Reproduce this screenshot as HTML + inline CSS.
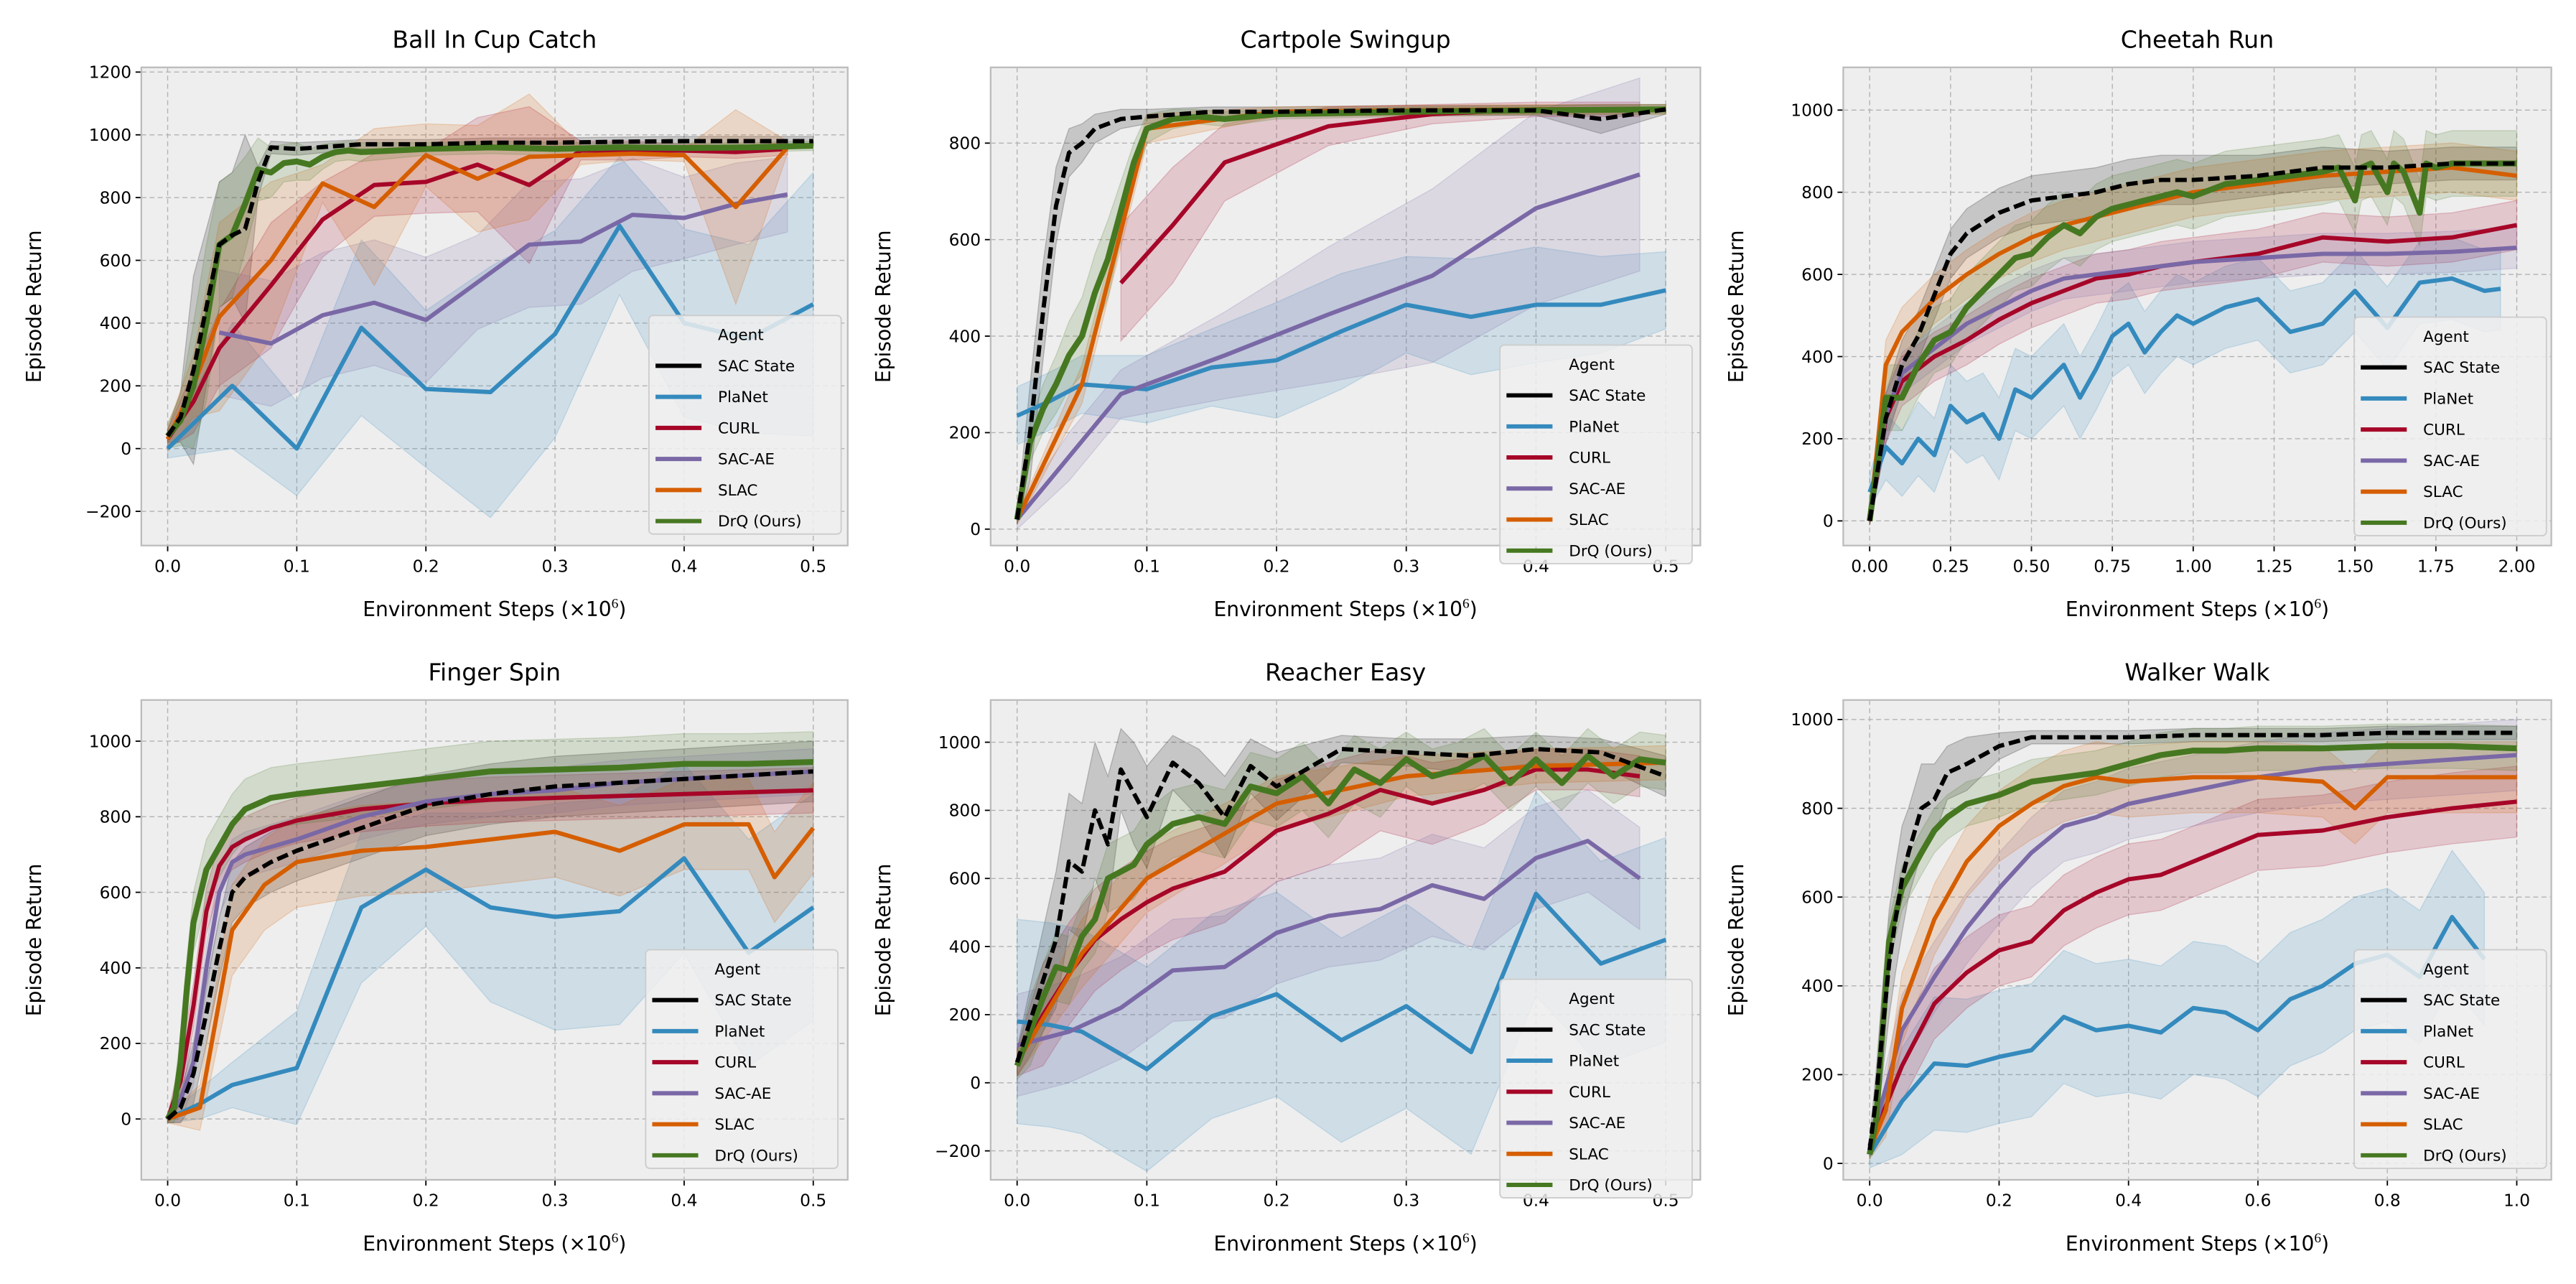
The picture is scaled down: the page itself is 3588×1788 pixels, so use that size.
<!DOCTYPE html>
<html><head><meta charset="utf-8"><style>
html,body{margin:0;padding:0;background:#fff}
svg{display:block;font-family:"DejaVu Sans","Liberation Sans",sans-serif}
</style></head><body>
<svg id="fig" width="3588" height="1788" viewBox="0 0 1568 781.4" xmlns="http://www.w3.org/2000/svg">
<rect width="1568" height="781.4" fill="#fff"/>
</svg>
<script>
// ---------- data ----------
const agents = ["SAC State","PlaNet","CURL","SAC-AE","SLAC","DrQ (Ours)"];
const colors = ["#000000","#348ABD","#A60628","#7A68A6","#D55E00","#467821"];

// Panel 1: Ball In Cup Catch
const p1SacX=[0,0.01,0.02,0.03,0.04,0.05,0.06,0.07,0.08,0.1,0.15,0.2,0.25,0.3,0.35,0.4,0.45,0.5];
const p1SacY=[40,100,250,450,650,680,700,850,960,955,970,970,975,975,978,980,980,980];
const p1SacS=[20,80,300,250,200,200,300,50,20,20,15,15,15,15,15,15,15,15];
const p1PlaX=[0,0.05,0.1,0.15,0.2,0.25,0.3,0.35,0.4,0.45,0.5];
const p1PlaY=[0,200,0,385,190,180,365,710,400,350,460];
const p1PlaS=[30,200,150,280,250,400,330,220,300,300,420];
const p1CurX=[0,0.02,0.04,0.08,0.12,0.16,0.2,0.24,0.28,0.32,0.36,0.4,0.44,0.48];
const p1CurY=[30,150,320,520,730,840,850,905,840,950,950,950,945,955];
const p1CurS=[30,100,120,200,120,100,100,150,250,30,30,20,20,20];
const p1AeX=[0.04,0.08,0.12,0.16,0.2,0.24,0.28,0.32,0.36,0.4,0.44,0.48];
const p1AeY=[370,335,425,465,410,530,650,660,745,735,780,810];
const p1AeS=[200,200,200,200,200,150,200,200,180,130,130,120];
const p1SlX=[0,0.02,0.04,0.08,0.12,0.16,0.2,0.24,0.28,0.32,0.36,0.4,0.44,0.48];
const p1SlY=[30,200,420,600,845,770,935,860,930,935,940,935,770,960];
const p1SlS=[40,100,300,250,60,250,100,170,200,30,20,20,310,20];
const p1DrX=[0,0.01,0.02,0.03,0.04,0.05,0.06,0.07,0.08,0.09,0.1,0.11,0.12,0.13,0.14,0.15,0.2,0.25,0.3,0.35,0.4,0.45,0.5];
const p1DrY=[40,90,200,400,650,680,780,890,880,910,915,905,930,945,950,945,955,960,955,960,958,960,965];
const p1DrS=[40,80,200,250,200,200,150,100,80,60,60,50,40,30,30,30,20,20,20,15,15,15,15];

// Panel 2: Cartpole Swingup
const p2SacX=[0,0.01,0.02,0.03,0.04,0.05,0.06,0.08,0.1,0.15,0.2,0.3,0.4,0.45,0.5];
const p2SacY=[20,200,450,670,780,800,830,850,855,865,865,868,868,850,870];
const p2SacS=[10,100,100,80,50,40,30,20,15,10,10,10,10,30,10];
const p2PlaX=[0,0.025,0.05,0.1,0.15,0.2,0.25,0.3,0.35,0.4,0.45,0.5];
const p2PlaY=[235,265,300,290,335,350,410,465,440,465,465,495];
const p2PlaS=[60,60,60,70,80,120,120,100,120,120,100,80];
const p2CurX=[0.08,0.12,0.16,0.24,0.32,0.4,0.48];
const p2CurY=[510,630,760,835,860,870,870];
const p2CurS=[120,120,80,40,20,15,15];
const p2AeX=[0,0.04,0.08,0.16,0.24,0.32,0.4,0.48];
const p2AeY=[20,150,280,360,445,525,665,735];
const p2AeS=[20,50,50,90,140,180,200,200];
const p2SlX=[0,0.05,0.1,0.2,0.3,0.4,0.5];
const p2SlY=[20,300,830,865,868,870,870];
const p2SlS=[10,40,30,10,10,10,10];
const p2DrX=[0,0.01,0.02,0.03,0.04,0.05,0.06,0.07,0.08,0.09,0.1,0.12,0.14,0.16,0.2,0.3,0.4,0.5];
const p2DrY=[20,180,250,300,360,400,490,560,660,760,830,850,855,850,860,865,868,870];
const p2DrS=[10,40,50,60,70,80,80,80,60,40,30,20,15,15,10,10,10,10];

// Panel 3: Cheetah Run
const p3SacX=[0,0.05,0.1,0.15,0.2,0.25,0.3,0.4,0.5,0.6,0.7,0.8,0.9,1.0,1.2,1.4,1.6,1.8,2.0];
const p3SacY=[0,250,380,450,550,650,700,750,780,790,800,820,830,830,840,860,860,870,870];
const p3SacS=[10,60,60,60,60,60,60,60,60,60,60,60,60,60,50,50,40,40,40];
const p3PlaX=[0,0.05,0.1,0.15,0.2,0.25,0.3,0.35,0.4,0.45,0.5,0.55,0.6,0.65,0.7,0.75,0.8,0.85,0.9,0.95,1.0,1.1,1.2,1.3,1.4,1.5,1.6,1.7,1.8,1.9,1.95];
const p3PlaY=[70,180,140,200,160,280,240,260,200,320,300,340,380,300,370,450,480,410,460,500,480,520,540,460,480,560,470,580,590,560,565];
const p3PlaS=[40,80,80,90,90,100,100,100,100,100,100,100,100,100,100,100,100,100,100,100,100,100,100,100,100,100,100,100,100,100,100];
const p3CurX=[0,0.05,0.1,0.2,0.3,0.4,0.5,0.6,0.7,0.8,0.9,1.0,1.2,1.4,1.6,1.8,2.0];
const p3CurY=[0,250,340,400,440,490,530,560,590,600,620,630,650,690,680,690,720];
const p3CurS=[10,60,60,60,60,60,60,60,60,60,60,60,60,60,60,60,60];
const p3AeX=[0,0.05,0.1,0.2,0.3,0.4,0.5,0.6,0.7,0.8,0.9,1.0,1.2,1.4,1.6,1.8,2.0];
const p3AeY=[0,260,360,420,480,520,560,590,600,610,620,630,640,650,650,655,665];
const p3AeS=[10,50,50,50,50,50,50,50,50,50,50,50,50,50,50,50,50];
const p3SlX=[0,0.05,0.1,0.2,0.3,0.4,0.5,0.6,0.7,0.8,0.9,1.0,1.2,1.4,1.6,1.8,2.0];
const p3SlY=[0,380,460,540,600,650,690,720,740,760,780,800,820,840,850,860,840];
const p3SlS=[10,60,60,60,60,60,60,60,60,60,60,60,60,60,60,60,60];
const p3DrX=[0,0.05,0.1,0.15,0.2,0.25,0.3,0.35,0.4,0.45,0.5,0.55,0.6,0.65,0.7,0.75,0.8,0.85,0.9,0.95,1.0,1.1,1.2,1.3,1.4,1.45,1.5,1.52,1.55,1.6,1.62,1.65,1.7,1.72,1.75,1.8,1.9,2.0];
const p3DrY=[0,300,300,380,440,460,520,560,600,640,650,690,720,700,740,760,770,780,790,800,790,820,830,840,850,860,780,860,870,800,870,850,750,870,860,870,870,870];
const p3DrS=[10,80,80,80,80,80,80,80,80,80,80,80,80,80,80,80,80,80,80,80,80,80,80,80,80,80,80,80,80,80,80,80,80,80,80,80,80,80];

// Panel 4: Finger Spin
const p4SacX=[0,0.01,0.02,0.03,0.04,0.05,0.06,0.08,0.1,0.15,0.2,0.25,0.3,0.35,0.4,0.45,0.5];
const p4SacY=[0,30,120,280,450,600,640,680,710,770,830,860,880,890,900,910,920];
const p4SacS=[10,40,80,80,80,80,80,80,80,80,80,80,80,80,80,80,80];
const p4PlaX=[0,0.025,0.05,0.1,0.15,0.2,0.25,0.3,0.35,0.4,0.45,0.5];
const p4PlaY=[0,40,90,135,560,660,560,535,550,690,440,560];
const p4PlaS=[10,40,60,150,200,150,250,300,300,250,300,300];
const p4CurX=[0,0.01,0.02,0.03,0.04,0.05,0.06,0.08,0.1,0.15,0.2,0.25,0.3,0.35,0.4,0.45,0.5];
const p4CurY=[0,100,300,550,670,720,740,770,790,820,835,845,850,855,860,865,870];
const p4CurS=[10,60,60,60,60,60,60,60,60,60,60,60,60,60,60,60,60];
const p4AeX=[0,0.01,0.02,0.03,0.04,0.05,0.06,0.08,0.1,0.15,0.2,0.25,0.3,0.35,0.4,0.45,0.5];
const p4AeY=[0,50,150,400,600,680,700,720,740,800,840,860,870,890,900,910,920];
const p4AeS=[10,60,60,60,60,60,60,60,60,60,60,60,60,60,60,60,60];
const p4SlX=[0,0.025,0.05,0.075,0.1,0.15,0.2,0.25,0.3,0.35,0.4,0.45,0.47,0.5];
const p4SlY=[0,30,500,620,680,710,720,740,760,710,780,780,640,770];
const p4SlS=[10,60,120,120,120,120,120,120,120,120,120,120,120,120];
const p4DrX=[0,0.005,0.01,0.015,0.02,0.03,0.04,0.05,0.06,0.08,0.1,0.15,0.2,0.25,0.3,0.35,0.4,0.45,0.5];
const p4DrY=[0,30,150,350,520,660,720,780,820,850,860,880,900,920,925,930,940,940,945];
const p4DrS=[10,40,80,80,80,80,80,80,80,80,80,80,80,80,80,80,80,80,80];

// Panel 5: Reacher Easy
const p5SacX=[0,0.01,0.02,0.03,0.04,0.05,0.06,0.07,0.08,0.09,0.1,0.12,0.14,0.16,0.18,0.2,0.25,0.3,0.35,0.4,0.45,0.5];
const p5SacY=[60,180,300,420,650,620,800,700,920,850,780,940,880,780,930,870,980,970,960,980,970,900];
const p5SacS=[40,100,150,200,200,200,200,200,120,150,150,80,100,120,80,100,40,40,50,40,40,60];
const p5PlaX=[0,0.025,0.05,0.1,0.15,0.2,0.25,0.3,0.35,0.4,0.45,0.5];
const p5PlaY=[180,170,150,40,195,260,125,225,90,555,350,420];
const p5PlaS=[300,300,300,300,300,300,300,300,300,300,300,300];
const p5CurX=[0,0.02,0.04,0.06,0.08,0.1,0.12,0.16,0.2,0.24,0.28,0.32,0.36,0.4,0.44,0.48];
const p5CurY=[60,200,320,420,480,530,570,620,740,790,860,820,860,920,920,900];
const p5CurS=[40,150,150,150,150,150,150,150,150,150,120,120,100,60,60,60];
const p5AeX=[0,0.04,0.08,0.12,0.16,0.2,0.24,0.28,0.32,0.36,0.4,0.44,0.48];
const p5AeY=[110,150,220,330,340,440,490,510,580,540,660,710,600];
const p5AeS=[150,150,150,150,150,150,150,150,150,150,150,150,150];
const p5SlX=[0,0.05,0.1,0.2,0.3,0.4,0.5];
const p5SlY=[60,380,600,820,900,930,940];
const p5SlS=[40,100,100,80,60,50,50];
const p5DrX=[0,0.01,0.02,0.03,0.04,0.05,0.06,0.07,0.08,0.09,0.1,0.12,0.14,0.16,0.18,0.2,0.22,0.24,0.26,0.28,0.3,0.32,0.34,0.36,0.38,0.4,0.42,0.44,0.46,0.48,0.5];
const p5DrY=[50,150,250,340,330,430,480,600,620,640,700,760,780,760,870,850,900,820,920,880,950,900,920,960,880,950,880,960,900,950,940];
const p5DrS=[40,100,100,100,100,100,100,100,100,100,100,100,100,100,100,100,100,100,100,100,80,80,80,80,80,80,80,80,80,80,80];

// Panel 6: Walker Walk
const p6SacX=[0,0.01,0.02,0.03,0.04,0.05,0.06,0.08,0.1,0.12,0.15,0.2,0.25,0.3,0.4,0.5,0.6,0.7,0.8,0.9,1.0];
const p6SacY=[30,150,300,450,550,640,700,800,820,880,900,940,960,960,960,965,965,965,970,970,970];
const p6SacS=[20,60,100,120,120,120,100,100,80,60,60,30,15,15,15,15,15,15,15,15,15];
const p6PlaX=[0,0.05,0.1,0.15,0.2,0.25,0.3,0.35,0.4,0.45,0.5,0.55,0.6,0.65,0.7,0.75,0.8,0.85,0.9,0.95];
const p6PlaY=[20,140,225,220,240,255,330,300,310,295,350,340,300,370,400,450,470,420,555,460];
const p6PlaS=[30,120,150,150,150,150,150,150,150,150,150,150,150,150,150,150,150,150,150,150];
const p6CurX=[0,0.05,0.1,0.15,0.2,0.25,0.3,0.35,0.4,0.45,0.5,0.6,0.7,0.8,0.9,1.0];
const p6CurY=[40,220,360,430,480,500,570,610,640,650,680,740,750,780,800,815];
const p6CurS=[20,80,80,80,80,80,80,80,80,80,80,80,80,80,80,80];
const p6AeX=[0,0.05,0.1,0.15,0.2,0.25,0.3,0.35,0.4,0.5,0.6,0.7,0.8,0.9,1.0];
const p6AeY=[40,300,420,530,620,700,760,780,810,840,870,890,900,910,920];
const p6AeS=[20,80,80,80,80,80,80,80,80,80,80,80,80,80,80];
const p6SlX=[0,0.025,0.05,0.1,0.15,0.2,0.25,0.3,0.35,0.4,0.5,0.6,0.7,0.75,0.8,0.9,1.0];
const p6SlY=[30,120,350,550,680,760,810,850,870,860,870,870,860,800,870,870,870];
const p6SlS=[20,60,80,80,80,80,80,80,80,80,80,80,80,80,80,80,80];
const p6DrX=[0,0.01,0.02,0.03,0.05,0.08,0.1,0.12,0.15,0.2,0.25,0.3,0.35,0.4,0.45,0.5,0.55,0.6,0.7,0.8,0.9,1.0];
const p6DrY=[20,100,300,500,620,700,750,780,810,830,860,870,880,900,920,930,930,935,935,940,940,935];
const p6DrS=[10,50,50,50,50,50,50,50,50,50,50,50,50,50,50,50,50,50,50,50,50,50];

// tick label arrays
const xTicksHalf=["0.0","0.1","0.2","0.3","0.4","0.5"];
const xTicksTwo=["0.00","0.25","0.50","0.75","1.00","1.25","1.50","1.75","2.00"];
const xTicksOne=["0.0","0.2","0.4","0.6","0.8","1.0"];
const yTicks1=[-200,0,200,400,600,800,1000,1200];
const yTicks2=[0,200,400,600,800];
const yTicks3=[0,200,400,600,800,1000];
const yTicks5=[-200,0,200,400,600,800,1000];

const panels=[
 {name:"ball-in-cup-catch",title:"Ball In Cup Catch",L:86,T:41,R:516,B:332,xmax:0.5,ylo:-309,yhi:1215,xt:xTicksHalf,yt:yTicks1,leg:[395,192],
  s:[[p1SacX,p1SacY,p1SacS],[p1PlaX,p1PlaY,p1PlaS],[p1CurX,p1CurY,p1CurS],[p1AeX,p1AeY,p1AeS],[p1SlX,p1SlY,p1SlS],[p1DrX,p1DrY,p1DrS]]},
 {name:"cartpole-swingup",title:"Cartpole Swingup",L:603,T:41,R:1035,B:332,xmax:0.5,ylo:-34,yhi:957,xt:xTicksHalf,yt:yTicks2,leg:[913,210],
  s:[[p2SacX,p2SacY,p2SacS],[p2PlaX,p2PlaY,p2PlaS],[p2CurX,p2CurY,p2CurS],[p2AeX,p2AeY,p2AeS],[p2SlX,p2SlY,p2SlS],[p2DrX,p2DrY,p2DrS]]},
 {name:"cheetah-run",title:"Cheetah Run",L:1122,T:41,R:1553,B:332,xmax:2.0,ylo:-60,yhi:1104,xt:xTicksTwo,yt:yTicks3,leg:[1433,193],
  s:[[p3SacX,p3SacY,p3SacS],[p3PlaX,p3PlaY,p3PlaS],[p3CurX,p3CurY,p3CurS],[p3AeX,p3AeY,p3AeS],[p3SlX,p3SlY,p3SlS],[p3DrX,p3DrY,p3DrS]]},
 {name:"finger-spin",title:"Finger Spin",L:86,T:426,R:516,B:718,xmax:0.5,ylo:-161,yhi:1109,xt:xTicksHalf,yt:yTicks3,leg:[393,578],
  s:[[p4SacX,p4SacY,p4SacS],[p4PlaX,p4PlaY,p4PlaS],[p4CurX,p4CurY,p4CurS],[p4AeX,p4AeY,p4AeS],[p4SlX,p4SlY,p4SlS],[p4DrX,p4DrY,p4DrS]]},
 {name:"reacher-easy",title:"Reacher Easy",L:603,T:426,R:1035,B:718,xmax:0.5,ylo:-285,yhi:1124,xt:xTicksHalf,yt:yTicks5,leg:[913,596],
  s:[[p5SacX,p5SacY,p5SacS],[p5PlaX,p5PlaY,p5PlaS],[p5CurX,p5CurY,p5CurS],[p5AeX,p5AeY,p5AeS],[p5SlX,p5SlY,p5SlS],[p5DrX,p5DrY,p5DrS]]},
 {name:"walker-walk",title:"Walker Walk",L:1122,T:426,R:1553,B:718,xmax:1.0,ylo:-37,yhi:1044,xt:xTicksOne,yt:yTicks3,leg:[1433,578],
  s:[[p6SacX,p6SacY,p6SacS],[p6PlaX,p6PlaY,p6PlaS],[p6CurX,p6CurY,p6CurS],[p6AeX,p6AeY,p6AeS],[p6SlX,p6SlY,p6SlS],[p6DrX,p6DrY,p6DrS]]}
];

const NS="http://www.w3.org/2000/svg";
const fig=document.getElementById('fig');
function mk(tag,attrs,parent){const e=document.createElementNS(NS,tag);for(const k in attrs)e.setAttribute(k,attrs[k]);(parent||fig).appendChild(e);return e;}

panels.forEach((p,pi)=>{
  const g=mk('g',{});
  
  
  const xlo=-0.0408*p.xmax, xhi=1.0534*p.xmax;
  const sx=v=>p.L+(v-xlo)/(xhi-xlo)*(p.R-p.L);
  const sy=v=>p.B-(v-p.ylo)/(p.yhi-p.ylo)*(p.B-p.T);
  const bg=mk('rect',{x:p.L,y:p.T,width:p.R-p.L,height:p.B-p.T,fill:'#eeeeee'},g);
  
  
  const cid='clip'+pi;
  const cp=mk('clipPath',{id:cid},g);mk('rect',{x:p.L,y:p.T,width:p.R-p.L,height:p.B-p.T},cp);
  const n=p.xt.length;
  p.xt.forEach((lab,i)=>{
    const v=p.xmax*i/(n-1), X=sx(v);
    mk('line',{x1:X,x2:X,y1:p.T,y2:p.B,stroke:'#b2b2b2','stroke-width':0.6,'stroke-dasharray':'3,2'},g);
    mk('line',{x1:X,x2:X,y1:p.B,y2:p.B+3.5,stroke:'#000','stroke-width':0.8},g);
    const t=mk('text',{x:X,y:p.B+16,'font-size':10.2,'text-anchor':'middle',fill:'#000'},g);t.textContent=lab;
    
    
  });
  p.yt.forEach(v=>{
    const Y=sy(v);
    mk('line',{x1:p.L,x2:p.R,y1:Y,y2:Y,stroke:'#b2b2b2','stroke-width':0.6,'stroke-dasharray':'3,2'},g);
    mk('line',{x1:p.L-3.5,x2:p.L,y1:Y,y2:Y,stroke:'#000','stroke-width':0.8},g);
    const t=mk('text',{x:p.L-6,y:Y+3.6,'font-size':10.2,'text-anchor':'end',fill:'#000'},g);t.textContent=(v<0?'\u2212'+(-v):String(v));
    
    
  });
  const cg=mk('g',{'clip-path':'url(#'+cid+')'},g);
  p.s.forEach((s,si)=>{
    const [xs,ys,sd]=s;
    let d='M'+xs.map((x,i)=>sx(x).toFixed(2)+','+sy(ys[i]+sd[i]).toFixed(2)).join('L');
    for(let i=xs.length-1;i>=0;i--)d+='L'+sx(xs[i]).toFixed(2)+','+sy(ys[i]-sd[i]).toFixed(2);
    const b=mk('path',{d:d+'Z',fill:colors[si],'fill-opacity':0.17,stroke:colors[si],'stroke-opacity':0.2,'stroke-width':0.6},cg);
    
    
  });
  [1,2,3,4,5,0].forEach(si=>{
    const [xs,ys]=p.s[si];
    const d='M'+xs.map((x,i)=>sx(x).toFixed(2)+','+sy(ys[i]).toFixed(2)).join('L');
    const a={d:d,fill:'none',stroke:colors[si],'stroke-width':si==5?3.6:2.6,'stroke-linejoin':'round'};
    if(si==0)a['stroke-dasharray']='7,3';
    const l=mk('path',a,cg);
    
    
  });
  mk('rect',{x:p.L,y:p.T,width:p.R-p.L,height:p.B-p.T,fill:'none',stroke:'#bcbcbc','stroke-width':1},g);
  const tt=mk('text',{x:(p.L+p.R)/2,y:p.T-12,'font-size':14.5,'text-anchor':'middle',fill:'#000'},g);tt.textContent=p.title;
  
  
  const xl=mk('text',{x:(p.L+p.R)/2,y:p.B+43,'font-size':12.3,'text-anchor':'middle',fill:'#000'},g);
  xl.textContent='Environment Steps (\u00d710';
  const sup=mk('tspan',{'dy':-5,'font-size':8.5,'font-family':'Liberation Serif, serif'},xl);sup.textContent='6';
  const cl=mk('tspan',{'dy':5},xl);cl.textContent=')';
  
  
  const yc=(p.T+p.B)/2, yx=p.L-61;
  const yl=mk('text',{x:yx,y:yc,'font-size':12.3,'text-anchor':'middle',fill:'#000',transform:'rotate(-90 '+yx+' '+yc+')'},g);yl.textContent='Episode Return';
  
  
  const [lx,ly]=p.leg;
  const lg=mk('g',{},g);
  
  
  mk('rect',{x:lx,y:ly,width:117,height:133,rx:2.5,fill:'#eeeeee','fill-opacity':0.85,stroke:'#cccccc','stroke-width':0.8},lg);
  const at=mk('text',{x:lx+42,y:ly+15,'font-size':9.4,fill:'#000'},lg);at.textContent='Agent';
  agents.forEach((a,i)=>{
    const yy=ly+15+18.9*(i+1);
    mk('line',{x1:lx+4,x2:lx+32,y1:yy-3.3,y2:yy-3.3,stroke:colors[i],'stroke-width':2.6},lg);
    const t=mk('text',{x:lx+42,y:yy,'font-size':9.4,fill:'#000'},lg);t.textContent=a;
    
    
  });
});
</script>
</body></html>
